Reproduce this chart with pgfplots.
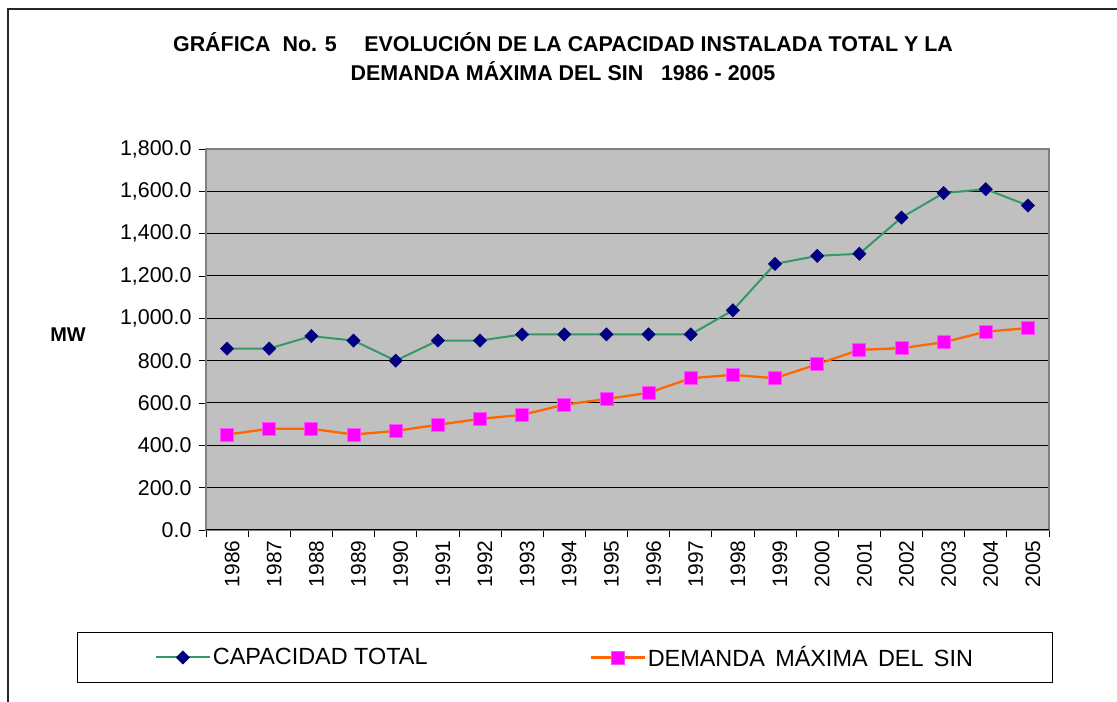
\documentclass[border=0pt]{standalone}
\usepackage{fontspec}
\setmainfont{Liberation Sans}
\usepackage{pgfplots}
\usepackage{pgfplotstable}
\pgfplotsset{compat=1.18}
\definecolor{plotbg}{HTML}{C0C0C0}
\definecolor{capgreen}{HTML}{339966}
\definecolor{capnavy}{HTML}{000080}
\definecolor{demorange}{HTML}{FF6600}
\definecolor{demmag}{HTML}{FF00FF}
\definecolor{framegray}{HTML}{808080}

\pgfplotstableread{
x cap dem
0 857 451
1 857 478
2 916 478
3 895 451
4 800 468
5 895 497
6 895 525
7 924 544
8 924 592
9 924 619
10 924 648
11 924 717
12 1038 733
13 1257 717
14 1295 783
15 1305 851
16 1476 859
17 1592 887
18 1610 937
19 1533 954
}\datatable

\begin{document}
\begin{tikzpicture}
\useasboundingbox (0,0) rectangle (1117bp,702bp);
\draw[line width=1.5bp, black!85] (8bp,0) -- (8bp,693bp) -- (1117bp,693bp);
\begin{axis}[
  at={(206bp,172bp)}, anchor=south west,
  scale only axis, width=843bp, height=381bp,
  xmin=-0.5, xmax=19.5, ymin=0, ymax=1800,
  xtick={0,...,19},
  xticklabels={1986,1987,1988,1989,1990,1991,1992,1993,1994,1995,1996,1997,1998,1999,2000,2001,2002,2003,2004,2005},
  minor xtick={-0.5,0.5,...,19.5},
  ytick={0,200,...,1800},
  xtick pos=bottom, ytick pos=left,
  tick align=outside,
  major tick length=7bp, minor tick length=7bp,
  tick style={black, line width=0.8bp},
  major x tick style={draw=none},
  ymajorgrids, major grid style={black, line width=1bp},
  axis background/.style={fill=plotbg},
  axis line style={framegray, line width=2bp},
  /pgf/number format/assume math mode=true,
  yticklabel style={xshift=-4bp, font=\fontsize{21.5}{24}\selectfont, /pgf/number format/.cd, fixed, fixed zerofill, precision=1, 1000 sep={,}},
  xticklabel style={rotate=90, anchor=east, yshift=-5bp, font=\fontsize{21}{24}\selectfont},
  ylabel={MW},
  every axis y label/.style={at={(axis description cs:-0.1637,0.512)}, anchor=center, font=\fontsize{20}{22}\selectfont\bfseries},
  title={GRÁFICA~~No. 5\quad\ EVOLUCIÓN DE LA CAPACIDAD INSTALADA TOTAL Y LA\\DEMANDA MÁXIMA DEL SIN\ \ \ 1986 - 2005},
  title style={at={(axis description cs:0.4235,1.227)}, anchor=center, align=center, font=\fontsize{21.5}{29}\selectfont\bfseries},
  legend columns=2,
  legend cell align=left,
  legend style={at={(axis description cs:0.4258,-0.3346)}, anchor=center, draw=black, line width=0.8bp, fill=white,
    inner xsep=77bp, inner ysep=12bp, font=\fontsize{23.5}{26}\selectfont,
    /tikz/every even column/.append style={column sep=160bp}},
  legend image code/.code={\draw[mark repeat=2,mark phase=2] plot coordinates {(0bp,0bp) (27bp,0bp) (54bp,0bp)};},
]
\addplot[capgreen, line width=2bp, mark=square*, mark size=4.7bp,
  mark options={rotate=45, fill=capnavy, draw=capnavy, line width=0.5bp}] table[x=x,y=cap]{\datatable};
\addplot[demorange, line width=2.3bp, mark=square*, mark size=6.5bp,
  mark options={fill=demmag, draw=demmag!70!white, line width=0.8bp}] table[x=x,y=dem]{\datatable};
\legend{CAPACIDAD TOTAL, DEMANDA\ \,MÁXIMA\ \,DEL\ \,SIN}
\draw[black, line width=1.2bp] (rel axis cs:0,0) -- (rel axis cs:1,0);
\end{axis}
\end{tikzpicture}
\end{document}
